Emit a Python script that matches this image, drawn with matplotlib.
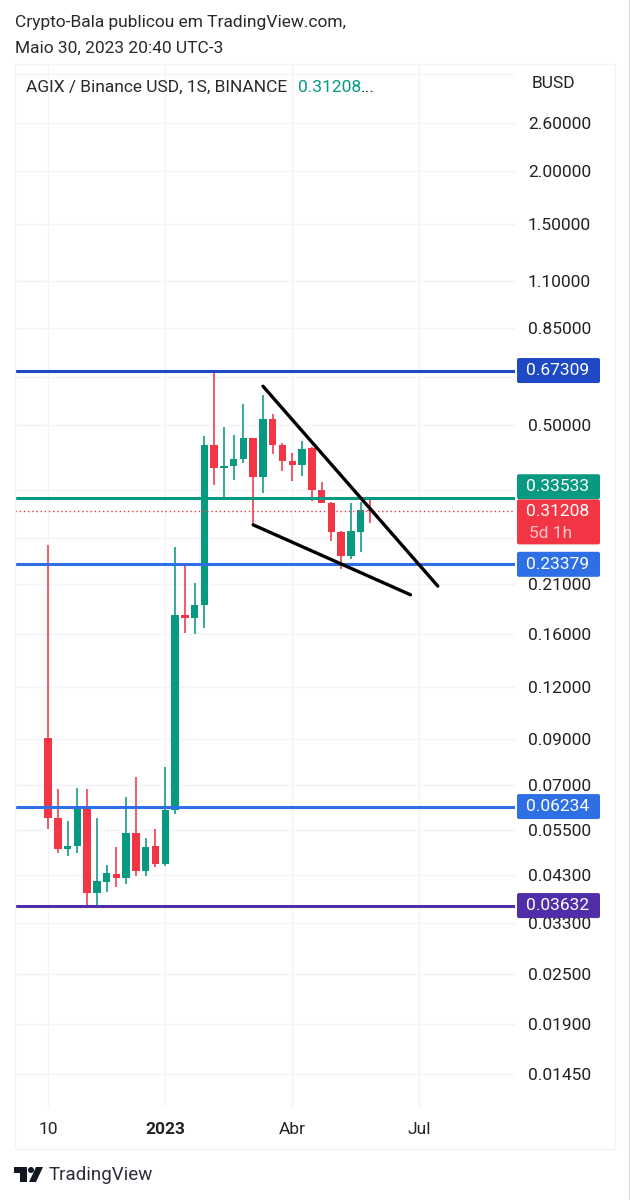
import matplotlib
matplotlib.use("Agg")
import matplotlib.pyplot as plt
from matplotlib.patches import FancyBboxPatch, Polygon, Rectangle

plt.rcParams['font.family'] = ['Roboto', 'DejaVu Sans']

# weekly candles AGIX/BUSD
opens = [.0907, .0586, .0495, .0503, .0615, .0389, .0413, .0431, .0422, .0540, .0439, .0503,
         .0456, .0612, .177, .174, .187, .448, .395, .400, .415, .466, .376, .517, .448, .411,
         .402, .441, .351, .327, .279, .245, .279, .314]
closes = [.0586, .0495, .0503, .0615, .0389, .0415, .0434, .0422, .0540, .0439, .0500, .0456,
          .0612, .177, .174, .187, .448, .395, .400, .415, .466, .376, .517, .448, .411, .402,
          .439, .351, .327, .279, .245, .280, .314, .312]
highs = [.260, .0686, .0576, .0690, .0686, .0586, .0453, .0500, .0657, .0733, .0525, .0552,
         .0774, .257, .234, .211, .471, .673, .495, .474, .561, .466, .589, .531, .453, .429,
         .458, .443, .366, .328, .280, .327, .328, .332]
lows = [.0552, .0484, .0476, .0484, .0362, .0362, .0391, .0402, .0409, .0427, .0427, .0449,
        .0451, .0599, .161, .160, .165, .360, .338, .370, .406, .290, .345, .427, .389, .368,
        .379, .330, .327, .266, .228, .241, .250, .293]

price_ticks = [3.4, 2.6, 2.0, 1.5, 1.1, .85, .65, .5, .35, .27, .21, .16, .12, .09, .07, .055,
               .043, .033, .025, .019, .0145]
price_labels = ['', '2.60000', '2.00000', '1.50000', '1.10000', '0.85000', '', '0.50000', '', '',
                '0.21000', '0.16000', '0.12000', '0.09000', '0.07000', '0.05500', '0.04300',
                '0.03300', '0.02500', '0.01900', '0.01450']
time_ticks = [0, 12, 25, 38]
time_labels = ['10', '2023', 'Abr', 'Jul']

level_values = [.67309, .33533, .23379, .06234, .03632]
level_names = ['0.67309', '0.33533', '0.23379', '0.06234', '0.03632']
level_colors = ['#1e48c4', '#089981', '#2e6fe6', '#2e6fe6', '#512da8']

wedge_upper_x = [22, 39.9]
wedge_upper_y = [.618, .2076]
wedge_lower_x = [21, 37.1]
wedge_lower_y = [.290, .198]

last_price = .31208
GREEN, RED = '#089981', '#f23645'
FS = 12.55
W, H = 630, 1200

fig = plt.figure(figsize=(W / 100, H / 100), dpi=100, facecolor='white')
ax = fig.add_axes([15 / W, 1 - 1107 / H, 500 / W, 1043 / H])
ax.set_yscale('log')
ax.set_xlim(-3.38, 47.8)
ax.set_ylim(.0121, 3.585)
for s in ax.spines.values():
    s.set_visible(False)
ax.set_axisbelow(True)
ax.grid(True, color='#f3f4f8', lw=1)

ax.yaxis.tick_right()
ax.set_yticks(price_ticks)
ax.set_yticklabels(price_labels)
ax.minorticks_off()
ax.set_xticks(time_ticks)
ax.set_xticklabels(time_labels)
ax.tick_params(axis='y', length=0, pad=9.4, labelsize=FS, labelcolor='#222222')
ax.tick_params(axis='x', length=0, pad=11, labelsize=FS, labelcolor='#222222')
ax.get_xticklabels()[1].set_fontweight('bold')

# candles
xs = range(len(opens))
colors = [GREEN if c >= o else RED for o, c in zip(opens, closes)]
ax.vlines(xs, lows, highs, colors=colors, lw=1.15, zorder=2)
ax.bar(xs, [abs(c - o) for o, c in zip(opens, closes)], bottom=[min(o, c) for o, c in zip(opens, closes)],
       width=.76, color=colors, lw=0, zorder=3)

# horizontal levels and wedge
for v, c in zip(level_values, level_colors):
    ax.axhline(v, color=c, lw=2.2, zorder=4)
ax.axhline(last_price, color=RED, lw=1, ls=(0, (1, 2)), zorder=4)
ax.plot(wedge_upper_x, wedge_upper_y, color='black', lw=2.4, zorder=5, solid_capstyle='round')
ax.plot(wedge_lower_x, wedge_lower_y, color='black', lw=2.4, zorder=5, solid_capstyle='round')


def price_y(value):
    # pixel row of a price, counted from the top of the image
    return H - ax.transData.transform((0, value))[1]


def badge(value, text, color, top_off=-12.5, height=25):
    y = price_y(value) + top_off
    fig.add_artist(FancyBboxPatch((517, H - y - height), 83, height, boxstyle='round,pad=0,rounding_size=2',
                                  transform=None, fc=color, ec='none', zorder=6))
    fig.text(558 / W, 1 - (y + 12.5) / H, text, color='white', fontsize=FS,
             ha='center', va='center', zorder=7)


for v, c, txt in zip(level_values, level_colors, level_names):
    badge(v, txt, c, top_off=-24 if txt == '0.33533' else -12.5)
# red last price badge with countdown
badge(last_price, '0.31208', RED, top_off=-12, height=45)
fig.text(529 / W, 1 - (price_y(last_price) + 22) / H, '5d 1h', color='#fcc4c9', fontsize=FS,
         ha='left', va='center', zorder=7)

# outer frame and the grey edge of the screenshot
fig.add_artist(Rectangle((14.5, H - 1149), 600.5, 1149 - 64, transform=None, fc='none', ec='#f1f3f6', lw=1))
fig.add_artist(Rectangle((629, 0), 1, H, transform=None, fc='#d8d8d8', ec='none'))

fig.text(15 / W, 1 - 23 / H, 'Crypto-Bala publicou em TradingView.com,', fontsize=FS, color='#2a2a2a', va='center')
fig.text(15 / W, 1 - 48 / H, 'Maio 30, 2023 20:40 UTC-3', fontsize=FS, color='#2a2a2a', va='center')
fig.text(26 / W, 1 - 87 / H, 'AGIX / Binance USD, 1S, BINANCE', fontsize=FS, color='#2a2a2a', va='center')
fig.text(298 / W, 1 - 87 / H, '0.31208', fontsize=FS, color=GREEN, va='center')
fig.text(361 / W, 1 - 87 / H, '...', fontsize=FS, color='#2a2a2a', va='center')
fig.text(532 / W, 1 - 84 / H, 'BUSD', fontsize=FS, color='#222222', va='center')

# TradingView logo
logo = [[(14, 1167), (27, 1167), (27, 1182), (20, 1182), (20, 1173), (14, 1173)],
        [(36, 1167), (43, 1167), (36, 1182), (29, 1182)]]
for pts in logo:
    fig.add_artist(Polygon([(x, H - y) for x, y in pts], transform=None, fc='#131722', ec='none'))
fig.add_artist(plt.Circle((31, H - 1170), 3, transform=None, fc='#131722', ec='none'))
fig.text(49 / W, 1 - 1175 / H, 'TradingView', fontsize=13.5, color='#2a2e39', va='center')

fig.savefig('out.png', dpi=100)
